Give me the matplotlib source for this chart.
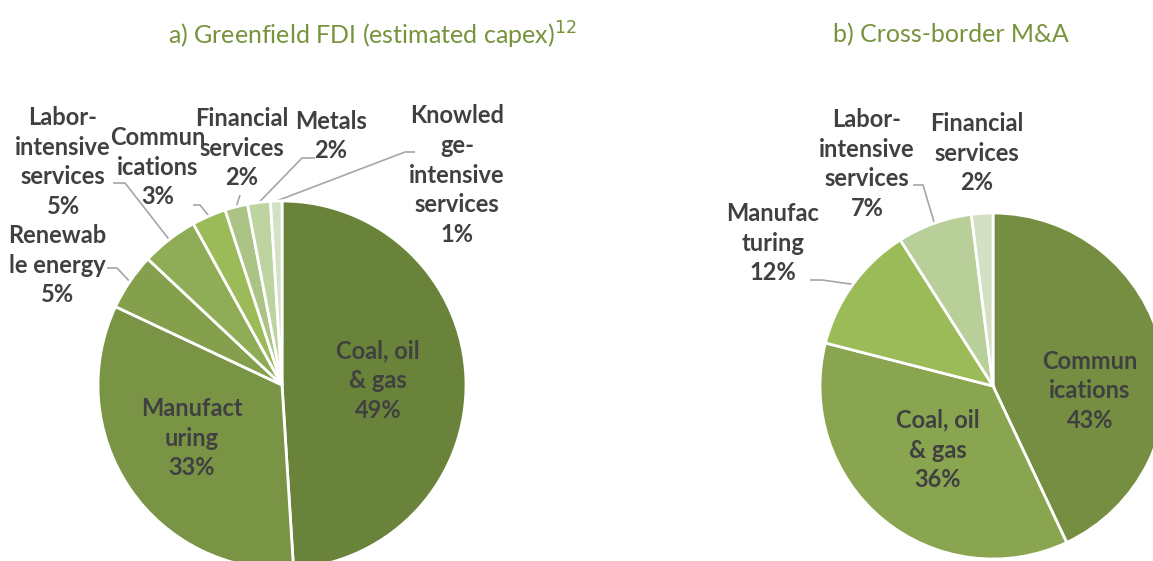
import numpy as np
import matplotlib.pyplot as plt

W, H = 1153, 561

# Greenfield FDI shares by sector
green_labels = ["Coal, oil\n& gas", "Manufact\nuring", "Renewab\nle energy", "Labor-\nintensive\nservices",
                "Commun\nications", "Financial\nservices", "Metals", "Knowled\nge-\nintensive\nservices"]
green_values = [49, 33, 5, 5, 3, 2, 2, 1]
green_colors = ["#6A833A", "#7A9446", "#84A04C", "#8FAD56", "#9BBB59", "#ABC486", "#BDD3A0", "#D3E1C4"]

# Cross-border M&A shares by sector
mna_labels = ["Commun\nications", "Coal, oil\n& gas", "Manufac\nturing", "Labor-\nintensive\nservices", "Financial\nservices"]
mna_values = [43, 36, 12, 7, 2]
mna_colors = ["#758E41", "#89A54F", "#9BBB59", "#B9CF99", "#D3E0C3"]

TEXT = "#404040"
LEADER = "#A6A6A6"
TITLE = "#77933C"
plt.rcParams['font.family'] = ['Lato', 'DejaVu Sans']


def py(y):
    # pixel row (from top) -> data y
    return H - y


def draw_pie(ax, values, labels, colors, center, radius, placements):
    cx, cy = center
    wedges, _ = ax.pie(values, colors=colors, startangle=90, counterclock=False,
                       center=(cx, py(cy)), radius=radius,
                       wedgeprops=dict(edgecolor="white", linewidth=2.0))
    total = float(sum(values))
    start = 0.0
    for val, lab, place in zip(values, labels, placements):
        mid = (start + val / 2.0) / total * 2 * np.pi
        start += val
        pct = f"{val}%"
        kind, tx, ty = place[0], place[1], place[2]
        ax.text(tx, py(ty), lab + "\n" + pct, ha="center", va="center", fontsize=17,
                fontweight="bold", color=TEXT, linespacing=1.36)
        if kind == "out" and len(place) > 3:
            ex, ey, hx = place[3], place[4], place[5]
            ax0 = cx + radius * np.sin(mid)
            ay0 = py(cy) + radius * np.cos(mid)
            ax.plot([ax0, ex, hx], [ay0, py(ey), py(ey)], color=LEADER, lw=1.2,
                    solid_capstyle="butt", zorder=0.5)


fig = plt.figure(figsize=(W / 100, H / 100), dpi=100)
ax = fig.add_axes([0, 0, 1, 1])

green_place = [
    ("in", 378, 381),
    ("in", 192, 438),
    ("out", 57, 265, 117, 268, 107),
    ("out", 63, 162, 125, 183, 113),
    ("out", 158, 167, 200, 205, 193),
    ("out", 242, 148, 240, 195, 240),
    ("out", 331, 136, 302, 158, 315),
    ("out", 457, 175, 405, 152, 415),
]
draw_pie(ax, green_values, green_labels, green_colors, (282, 385), 184, green_place)

mna_place = [
    ("in", 1090, 391),
    ("in", 938, 450),
    ("out", 773, 243, 822, 280, 810),
    ("out", 867, 164, 923, 185, 913),
    ("out", 977, 153),
]
draw_pie(ax, mna_values, mna_labels, mna_colors, (993, 386), 173, mna_place)

ax.text(372, py(35), "a) Greenfield FDI (estimated capex)$^{12}$", ha="center", va="center",
        fontsize=18, color=TITLE)
ax.text(951, py(35), "b) Cross-border M&A", ha="center", va="center", fontsize=18, color=TITLE)

ax.set_xlim(0, W)
ax.set_ylim(0, H)
ax.set_aspect("equal")
ax.axis("off")

fig.savefig("out.png", dpi=100)
